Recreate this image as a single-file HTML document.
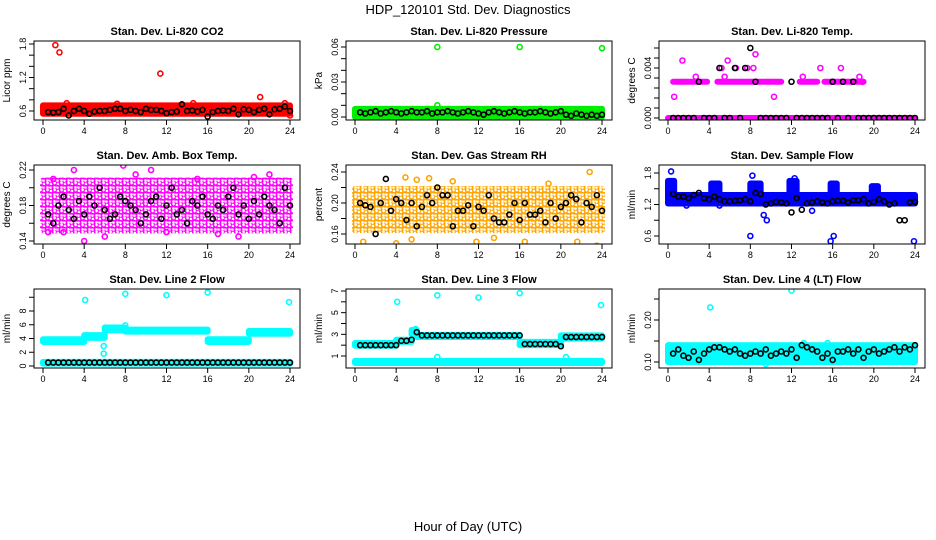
<!DOCTYPE html>
<html><head><meta charset="utf-8"><style>
body{margin:0;background:#fff}
svg{display:block;font-family:"Liberation Sans",sans-serif}
</style></head><body>
<svg id="c" width="936" height="540">
<text x="468" y="14" text-anchor="middle" font-size="13">HDP_120101  Std. Dev. Diagnostics</text>
<text x="468" y="531" text-anchor="middle" font-size="13">Hour of Day (UTC)</text>
</svg>
<script>
// ---------- data ----------
const titles=["Stan. Dev. Li-820 CO2","Stan. Dev. Li-820 Pressure","Stan. Dev. Li-820 Temp.","Stan. Dev. Amb. Box Temp.","Stan. Dev. Gas Stream RH","Stan. Dev. Sample Flow","Stan. Dev. Line 2 Flow","Stan. Dev. Line 3 Flow","Stan. Dev. Line 4 (LT) Flow"];
const yTitles=["Licor ppm","kPa","degrees C","degrees C","percent","ml/min","ml/min","ml/min","ml/min"];
const seriesColors=["#ff0000","#00ee00","#ff00ff","#ff00ff","#ffa500","#0000ff","#00ffff","#00ffff","#00ffff"];
const xTicks=[0,4,8,12,16,20,24];
const yTickVals=[[0.6,0.8,1.0,1.2,1.4,1.6,1.8],[0,0.01,0.02,0.03,0.04,0.05,0.06],[0,0.0008,0.0016,0.0024,0.0032,0.004,0.0048,0.0056],[0.14,0.16,0.18,0.20,0.22],[0.16,0.18,0.20,0.22,0.24],[0.6,0.9,1.2,1.5,1.8],[0,2,4,6,8,10],[1,2,3,4,5,6,7],[0.10,0.15,0.20,0.25]];
const yTickLabels=[["0.6","","","1.2","","","1.8"],["0.00","","","0.03","","","0.06"],["0.000","","","","","0.004","",""],["0.14","","0.18","","0.22"],["0.16","","0.20","","0.24"],["0.6","","1.2","","1.8"],["0","2","4","6","8",""],["1","","3","","5","","7"],["0.10","","0.20",""]];
const bandStart=[[0],[0],[0,0.5,4.8,12.8,15.2],[0],[0],[0,0,4.2,8,11.8,15.8,19.8],[0,0,4,6,8,16,20],[0,0,4,5.5,6,16,20],[0]];
const bandEnd=[[24],[24],[24,3.8,11,14.5,19],[24],[24],[24,0.6,5,9,12.5,16.4,20.4],[24,4,6,8,16,20,24],[24,4,5.5,6,16,20,24],[24]];
const bandLo=[[0.55],[0],[0,0.0029,0.0029,0.0029,0.0029],[0.152],[0.165],[1.22,1.35,1.3,1.3,1.3,1.3,1.3],[0.35,3.5,4.1,5.2,5.0,3.5,4.7],[0.35,1.95,2.3,3.0,2.75,2.0,2.6],[0.10]];
const bandHi=[[0.70],[0.007],[0,0.0029,0.0029,0.0029,0.0029],[0.208],[0.218],[1.38,1.65,1.6,1.6,1.65,1.6,1.55],[0.6,3.9,4.5,5.6,5.3,3.9,5.1],[0.55,2.2,2.5,3.4,2.95,2.3,2.9],[0.14]];
const outX=[[1.2,1.6,11.4,21.1,2.3,23.5,24,7.2,14.6],[8,16,24,8],[0.6,1.4,2.7,5.2,5.5,5.8,6.6,7.7,8.3,8.5,10.3,13.1,14.8,16.8,18.6,18.9],[0.5,1,3,4,7.8,9,12,15,19,22,2,6,10.5,17,20.5],[0.8,4,4.9,5.5,7.2,9.5,13.5,16.5,18.8,21.6,22.8,23.5,11.8,6],[8,15.8,16.1,23.9,0.3,8.2,12.3,9.6,9.3,14,1.8,5],[4.1,8,12,16,23.9,5.9,5.9,8],[4.1,8,12,16,23.9,8,20.5,5.9],[4.1,12,0.1,9.5,13.2,15.5]];
const outY=[[1.78,1.65,1.27,0.85,0.74,0.74,0.52,0.73,0.74],[0.06,0.06,0.059,0.01],[0.0017,0.0046,0.0033,0.004,0.0033,0.0046,0.004,0.004,0.004,0.0051,0.0017,0.0033,0.004,0.004,0.0033,0.0029],[0.15,0.21,0.22,0.14,0.225,0.215,0.15,0.21,0.145,0.215,0.15,0.145,0.22,0.148,0.212],[0.15,0.148,0.233,0.153,0.232,0.228,0.155,0.15,0.225,0.15,0.24,0.145,0.15,0.23],[0.6,0.5,0.6,0.5,1.83,1.75,1.7,0.9,1.0,1.08,1.18,1.18],[9.6,10.5,10.3,10.7,9.3,1.8,2.9,5.9],[6,6.6,6.4,6.8,5.7,0.9,0.9,3.5],[0.23,0.27,0.14,0.095,0.145,0.145]];
const blackVals=[
[0.58,0.57,0.58,0.64,0.52,0.6,0.64,0.6,0.55,0.59,0.6,0.6,0.62,0.64,0.64,0.6,0.62,0.6,0.58,0.64,0.62,0.62,0.6,0.56,0.58,0.59,0.72,0.6,0.61,0.59,0.62,0.5,0.58,0.6,0.61,0.6,0.64,0.54,0.63,0.62,0.58,0.62,0.64,0.54,0.63,0.64,0.68,0.6],
[0.004,0.003,0.004,0.005,0.003,0.004,0.005,0.004,0.003,0.004,0.005,0.004,0.004,0.005,0.003,0.004,0.004,0.005,0.004,0.003,0.004,0.005,0.004,0.003,0.002,0.004,0.005,0.004,0.003,0.004,0.005,0.004,0.003,0.004,0.004,0.005,0.004,0.003,0.004,0.005,0.002,0.001,0.003,0.002,0.001,0.002,0.001,0.002],
[0,0,0,0,0,0.0029,0,0,0,0.004,0,0,0.004,0,0.004,0.0056,0.0029,0,0,0,0,0,0,0.0029,0,0,0,0,0,0,0,0.0029,0,0.0029,0,0.0029,0,0,0,0,0,0,0,0,0,0,0,0],
[0.17,0.16,0.18,0.19,0.175,0.165,0.185,0.17,0.19,0.18,0.2,0.175,0.165,0.17,0.19,0.185,0.18,0.175,0.16,0.17,0.185,0.19,0.165,0.18,0.2,0.17,0.175,0.16,0.185,0.18,0.19,0.17,0.165,0.18,0.175,0.19,0.2,0.17,0.18,0.165,0.185,0.17,0.19,0.18,0.175,0.16,0.2,0.18],
[0.2,0.197,0.195,0.16,0.2,0.231,0.19,0.205,0.2,0.178,0.2,0.17,0.195,0.21,0.2,0.22,0.21,0.21,0.17,0.19,0.19,0.197,0.17,0.195,0.19,0.21,0.18,0.175,0.175,0.185,0.2,0.178,0.2,0.185,0.185,0.19,0.175,0.2,0.18,0.195,0.2,0.21,0.205,0.175,0.2,0.195,0.21,0.19],
[1.4,1.35,1.35,1.32,1.38,1.42,1.32,1.3,1.35,1.3,1.26,1.26,1.27,1.28,1.3,1.26,1.42,1.4,1.2,1.22,1.25,1.24,1.22,1.05,1.32,1.1,1.22,1.24,1.26,1.24,1.22,1.26,1.27,1.27,1.24,1.28,1.28,1.3,1.22,1.25,1.3,1.26,1.2,1.22,0.9,0.9,1.24,1.25],
[0.5,0.5,0.5,0.5,0.5,0.5,0.5,0.5,0.5,0.5,0.5,0.5,0.5,0.5,0.5,0.5,0.5,0.5,0.5,0.5,0.5,0.5,0.5,0.5,0.5,0.5,0.5,0.5,0.5,0.5,0.5,0.5,0.5,0.5,0.5,0.5,0.5,0.5,0.5,0.5,0.5,0.5,0.5,0.5,0.5,0.5,0.5,0.5],
[2.0,2.0,2.0,2.0,2.0,2.0,2.0,2.0,2.4,2.4,2.5,3.2,2.9,2.9,2.9,2.9,2.9,2.9,2.9,2.9,2.9,2.9,2.9,2.9,2.9,2.9,2.9,2.9,2.9,2.9,2.9,2.9,2.1,2.1,2.1,2.1,2.1,2.1,2.1,1.9,2.75,2.75,2.75,2.75,2.75,2.75,2.75,2.75],
[0.12,0.13,0.115,0.11,0.125,0.105,0.12,0.13,0.135,0.135,0.13,0.125,0.13,0.12,0.115,0.12,0.125,0.12,0.13,0.115,0.12,0.125,0.12,0.13,0.11,0.14,0.135,0.13,0.125,0.11,0.12,0.105,0.125,0.125,0.13,0.12,0.13,0.11,0.125,0.13,0.12,0.125,0.13,0.135,0.125,0.135,0.13,0.14]];
// ---------- layout (calibration, not data) ----------
const colX0=[43,355,668], colBoxL=[34,346,659], rowTop=[41,165,289];
const yCal=[[0.6,111,1.8,44],[0,117,0.06,47],[0,118,0.004,68],[0.14,241,0.22,170],[0.16,234,0.24,172],[0.6,236,1.8,173],[0,366,8,311],[1,356,7,291],[0.1,362,0.2,320]];
const texturedPanels=[3,4];
const NS="http://www.w3.org/2000/svg", svg=document.getElementById('c');
function mk(tag,attrs,parent,txt){const e=document.createElementNS(NS,tag);for(const k in attrs)e.setAttribute(k,attrs[k]);if(txt!==undefined)e.textContent=txt;(parent||svg).appendChild(e);return e;}
const defs=mk('defs',{});
texturedPanels.forEach(p=>{
  const pat=mk('pattern',{id:'pat'+p,width:7,height:7,patternUnits:'userSpaceOnUse'},defs);
  [[2,2],[5.5,5.5],[5.5,1],[1.5,5.5]].forEach(q=>mk('circle',{cx:q[0],cy:q[1],r:2,fill:'none',stroke:seriesColors[p],'stroke-width':1.3},pat));
});
for(let p=0;p<9;p++){
  const col=p%3,row=Math.floor(p/3);
  const g=mk('g',{});
  
  
  const x=h=>colX0[col]+h*247/24;
  const c=yCal[p]; const y=v=>c[1]+(v-c[0])*(c[3]-c[1])/(c[2]-c[0]);
  const L=colBoxL[col],T=rowTop[row],W=266,H=79;
  const t=mk('text',{x:L+W/2,y:T-6,'text-anchor':'middle','font-size':'11','font-weight':'bold'},g,titles[p]);
  
  
  const yt=mk('text',{transform:`translate(${L-24},${T+H/2}) rotate(-90)`,'text-anchor':'middle','font-size':'10'},g,yTitles[p]);
  
  
  const cp=mk('clipPath',{id:'cp'+p},g); mk('rect',{x:L,y:T,width:W,height:H},cp);
  const data=mk('g',{'clip-path':`url(#cp${p})`},g);
  const col0=seriesColors[p];
  const fillC=texturedPanels.includes(p)?`url(#pat${p})`:col0;
  for(let i=0;i<bandStart[p].length;i++){
    const r=mk('rect',{x:x(bandStart[p][i])-3,y:y(bandHi[p][i])-3,width:x(bandEnd[p][i])-x(bandStart[p][i])+6,height:y(bandLo[p][i])-y(bandHi[p][i])+6,rx:3,fill:fillC},data);
    
    
  }
  for(let i=0;i<outX[p].length;i++){
    const ci=mk('circle',{cx:x(outX[p][i]),cy:y(outY[p][i]),r:2.5,fill:'none',stroke:col0,'stroke-width':1.6},data);
    
    
  }
  for(let i=0;i<blackVals[p].length;i++){
    const ci=mk('circle',{cx:x((i+1)*0.5),cy:y(blackVals[p][i]),r:2.5,fill:'none',stroke:'#000','stroke-width':1.6},data);
    
    
  }
  const box=mk('rect',{x:L,y:T,width:W,height:H,fill:'none',stroke:'#000','stroke-width':1},g);
  
  
  xTicks.forEach(v=>{
    mk('line',{x1:x(v),x2:x(v),y1:T+H,y2:T+H+5,stroke:'#000'},g);
    const tl=mk('text',{x:x(v),y:T+H+14,'text-anchor':'middle','font-size':'9'},g,String(v));
    
    
  });
  yTickVals[p].forEach((v,i)=>{
    mk('line',{x1:L-5,x2:L,y1:y(v),y2:y(v),stroke:'#000'},g);
    const lab=yTickLabels[p][i];
    if(lab){const tl=mk('text',{transform:`translate(${L-8},${y(v)}) rotate(-90)`,'text-anchor':'middle','font-size':'9'},g,lab);
      
      }
  });
}
</script>
</body></html>
